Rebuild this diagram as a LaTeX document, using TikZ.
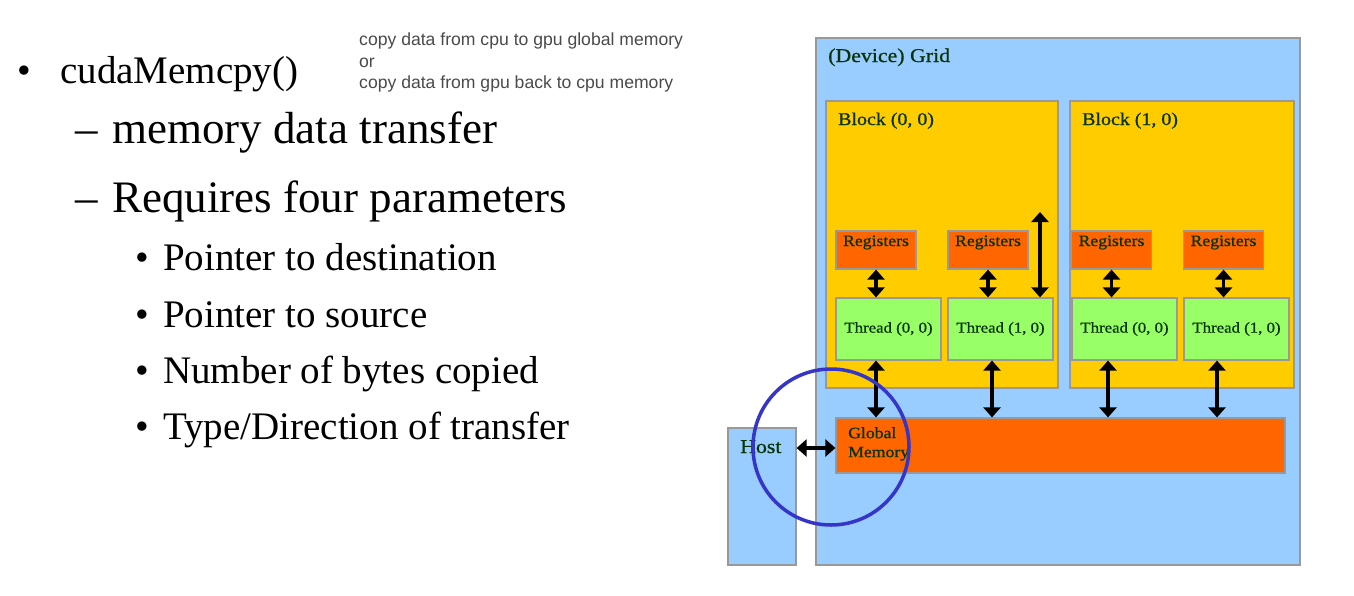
\documentclass[tikz,border=0pt]{standalone}
\usepackage{fontspec}
\setmainfont{Liberation Serif}
\newfontfamily\notefont{Liberation Sans}
\newfontfamily\diagfont[FakeStretch=1.12,FakeBold=0.8]{Liberation Serif}
\usetikzlibrary{arrows.meta}
\definecolor{gridblue}{HTML}{99CCFF}
\definecolor{blockyellow}{HTML}{FFCC00}
\definecolor{regorange}{HTML}{FF6600}
\definecolor{threadgreen}{HTML}{99FF66}
\definecolor{labelgreen}{HTML}{063306}
\definecolor{edgegray}{HTML}{999999}
\definecolor{notegray}{HTML}{4A4A4A}
\definecolor{ringblue}{HTML}{3535C8}
\tikzset{
  box/.style={draw=edgegray, line width=1.2pt, inner sep=0pt},
  lbl/.style={text=labelgreen, inner sep=0pt, font=\diagfont},
  link/.style={line width=3.6pt, {Triangle[width=17pt,length=10pt]}-{Triangle[width=17pt,length=10pt]}},
  bigtext/.style={inner sep=0pt, anchor=base west, font=\fontsize{45}{50}\selectfont},
  subtext/.style={inner sep=0pt, anchor=base west, font=\fontsize{39}{44}\selectfont},
}
\begin{document}
\begin{tikzpicture}[x=1pt,y=-1pt]
\useasboundingbox (0,0) rectangle (1354,595);

% bullet list
\node[subtext] (b0) at (17,83) {\textbullet};
\node[subtext] (t0) at (60,83) {cudaMemcpy()};
\node[bigtext] (d1) at (75,143) {--};
\node[bigtext] (t1) at (112,143) {memory data transfer};
\node[bigtext] (d2) at (75,212) {--};
\node[bigtext] (t2) at (112,212) {Requires four parameters};
\node[subtext] (s1b) at (135,270) {\textbullet};
\node[subtext] (s1) at (163,270) {Pointer to destination};
\node[subtext] (s2b) at (135,327) {\textbullet};
\node[subtext] (s2) at (163,327) {Pointer to source};
\node[subtext] (s3b) at (135,383) {\textbullet};
\node[subtext] (s3) at (163,383) {Number of bytes copied};
\node[subtext] (s4b) at (135,439) {\textbullet};
\node[subtext] (s4) at (163,439) {Type/Direction of transfer};

% note beside the call
\node[inner sep=0pt, anchor=north west, align=left, text=notegray,
      font=\notefont\fontsize{17.6}{21.5}\selectfont] (note) at (359,33)
  {copy data from cpu to gpu global memory\\or\\copy data from gpu back to cpu memory};

% device grid and host
\node[box, fill=gridblue, minimum width=484pt, minimum height=527pt] (grid) at (1058,301.5) {};
\node[box, fill=gridblue, minimum width=68pt, minimum height=137pt] (host) at (762,496.5) {};
\node[lbl, anchor=base west, font=\diagfont\fontsize{19.5}{22}\selectfont] (gridl) at (828,62) {(Device) Grid};

% blocks
\node[box, fill=blockyellow, minimum width=232pt, minimum height=287pt] (blk0) at (942,244.5) {};
\node[box, fill=blockyellow, minimum width=224pt, minimum height=287pt] (blk1) at (1182,244.5) {};
\node[lbl, anchor=base west, font=\diagfont\fontsize{17.8}{20}\selectfont] (blk0l) at (838,125) {Block (0, 0)};
\node[lbl, anchor=base west, font=\diagfont\fontsize{17.8}{20}\selectfont] (blk1l) at (1082,125) {Block (1, 0)};

% registers
\foreach \n/\x in {r1/876, r2/988, r3/1111.5, r4/1223.5}
  \node[box, fill=regorange, minimum width=80pt, minimum height=38pt] (\n) at (\x,250) {};
\foreach \n in {r1,r2,r3,r4}
  \node[lbl, anchor=base, font=\diagfont\fontsize{15.8}{18}\selectfont] (\n l) at (\n.north |- 0,246) {Registers};

% threads
\foreach \n/\x/\t in {th1/888.5/0, th2/1000.5/1, th3/1124.5/0, th4/1236.5/1}
  \node[box, fill=threadgreen, minimum width=105pt, minimum height=62pt,
        lbl, font=\diagfont\fontsize{15}{18}\selectfont] (\n) at (\x,329) {Thread (\t, 0)};

% global memory
\node[box, fill=regorange, minimum width=449pt, minimum height=55pt] (gm) at (1060.5,445.5) {};
\node[lbl, anchor=north west, align=left, font=\diagfont\fontsize{15.8}{19}\selectfont] (gml) at (848,427) {Global\\Memory};
\node[lbl, anchor=base west, font=\diagfont\fontsize{19.5}{22}\selectfont] (hostl) at (740,453) {Host};

% register <-> thread links
\foreach \n/\t in {r1/th1, r2/th2, r3/th3, r4/th4}
  \draw[link] (\n.south) -- (\n.south |- \t.north);

% link leaving block (0,0) upward from thread (1,0)
\coordinate (up) at (1040,212);
\draw[link] (up) -- (up |- th2.north);

% thread <-> global memory links
\draw[link] ([xshift=-12.5pt]th1.south) -- ([xshift=-12.5pt]th1.south |- gm.north);
\draw[link] ([xshift=-8.5pt]th2.south) -- ([xshift=-8.5pt]th2.south |- gm.north);
\draw[link] ([xshift=-16.5pt]th3.south) -- ([xshift=-16.5pt]th3.south |- gm.north);
\draw[link] ([xshift=-19.5pt]th4.south) -- ([xshift=-19.5pt]th4.south |- gm.north);

% host <-> global memory link
\draw[link] ([yshift=-2.5pt]gm.west -| host.east) -- ([yshift=-2.5pt]gm.west);

% highlight ring
\node[draw=ringblue, line width=3.5pt, circle, minimum size=156pt, inner sep=0pt] (ring) at (831,447) {};
\end{tikzpicture}
\end{document}
